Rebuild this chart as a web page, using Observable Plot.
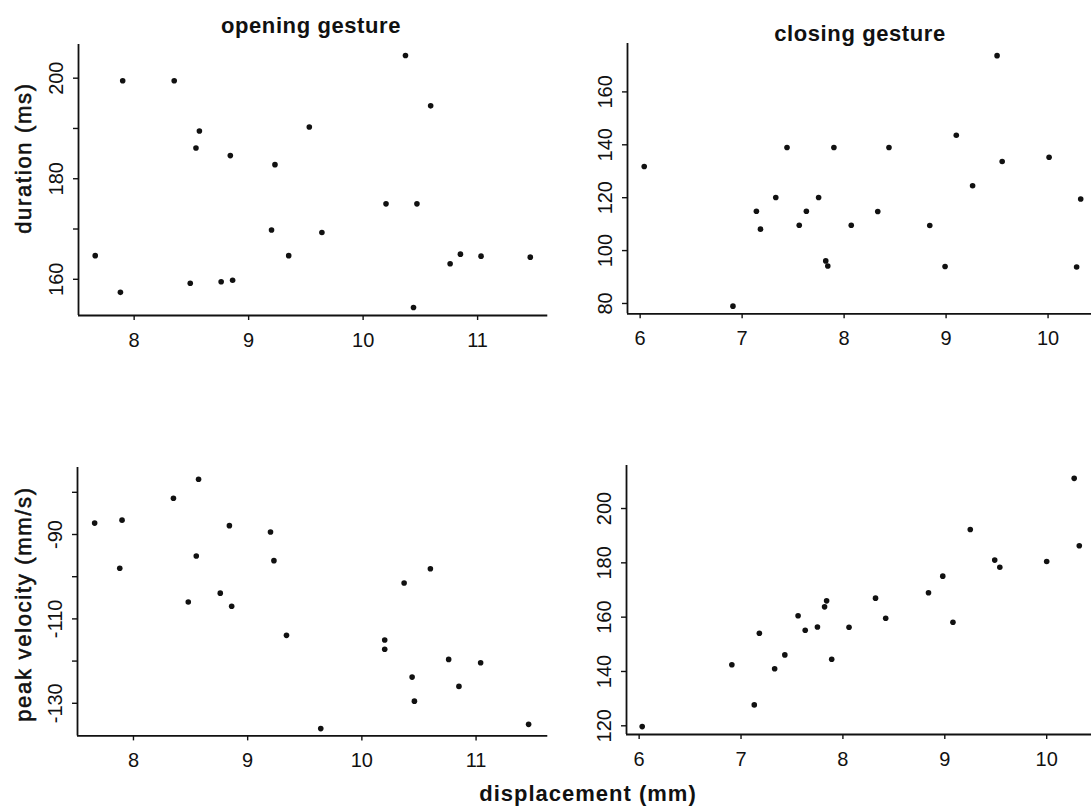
<!DOCTYPE html>
<html><head><meta charset="utf-8">
<script src="https://cdn.jsdelivr.net/npm/d3@7"></script>
<script src="https://cdn.jsdelivr.net/npm/@observablehq/plot@0.6"></script>
<style>
html,body{margin:0;padding:0;background:#fff;overflow:hidden}
#chart{position:relative;width:1091px;height:810px;overflow:hidden;background:#fff}
#chart > svg{position:absolute;overflow:visible}
</style></head><body><div id="chart"></div>
<script>
// ---- data ----
// opening gesture: displacement (mm) vs duration (ms)
const openDispDur = [7.66, 7.88, 7.90, 8.35, 8.57, 8.54, 8.84, 8.49, 8.76, 8.86, 9.23, 9.20, 9.35, 9.53, 9.64, 10.37, 10.59, 10.20, 10.47, 10.44, 10.76, 10.85, 11.03, 11.46];
const openDuration = [164.7, 157.4, 199.5, 199.5, 189.5, 186.1, 184.6, 159.2, 159.5, 159.8, 182.8, 169.8, 164.7, 190.3, 169.3, 204.5, 194.5, 175.0, 175.0, 154.4, 163.1, 165.0, 164.6, 164.4];
// opening gesture: displacement (mm) vs peak velocity (mm/s)
const openDispVel = [7.66, 7.90, 7.88, 8.35, 8.57, 8.55, 8.84, 8.48, 8.76, 8.86, 9.20, 9.23, 9.34, 9.64, 10.37, 10.60, 10.20, 10.20, 10.44, 10.46, 10.76, 10.85, 11.04, 11.46];
const openVelocity = [-87.3, -86.6, -98.0, -81.4, -76.9, -95.1, -87.9, -106.0, -103.9, -107.0, -89.4, -96.2, -113.9, -136.0, -101.5, -98.1, -115.0, -117.2, -123.8, -129.5, -119.6, -126.0, -120.4, -135.0];
// closing gesture: displacement (mm) vs duration (ms)
const closeDispDur = [6.04, 6.91, 7.14, 7.18, 7.33, 7.44, 7.56, 7.63, 7.75, 7.82, 7.84, 7.90, 8.07, 8.33, 8.44, 8.84, 8.99, 9.10, 9.26, 9.50, 9.55, 10.01, 10.32, 10.28];
const closeDuration = [131.8, 79.0, 114.9, 108.1, 120.1, 139.0, 109.6, 114.9, 120.1, 96.1, 94.2, 139.0, 109.6, 114.8, 139.0, 109.5, 94.0, 143.6, 124.5, 173.7, 133.7, 135.3, 119.5, 93.8];
// closing gesture: displacement (mm) vs peak velocity (mm/s)
const closeDispVel = [6.03, 6.91, 7.13, 7.18, 7.33, 7.43, 7.56, 7.63, 7.75, 7.82, 7.84, 7.89, 8.06, 8.32, 8.42, 8.84, 8.98, 9.08, 9.25, 9.49, 9.54, 10.00, 10.27, 10.32];
const closeVelocity = [119.7, 142.5, 127.7, 154.1, 141.0, 146.1, 160.5, 155.2, 156.4, 163.8, 166.0, 144.5, 156.3, 167.0, 159.6, 169.0, 175.1, 158.1, 192.3, 181.0, 178.4, 180.5, 211.1, 186.3];

// tick values and labelled ticks
const openXTicks = [8, 9, 10, 11];
const closeXTicks = [6, 7, 8, 9, 10];
const openDurTicks = [160, 170, 180, 190, 200];
const openDurLabels = [160, 180, 200];
const openVelTicks = [-130, -120, -110, -100, -90, -80];
const openVelLabels = [-130, -110, -90];
const closeDurTicks = [80, 100, 120, 140, 160];
const closeDurLabels = [80, 100, 120, 140, 160];
const closeVelTicks = [120, 140, 160, 180, 200];
const closeVelLabels = [120, 140, 160, 180, 200];

const titles = ["opening gesture", "closing gesture"];
const yTitles = ["duration (ms)", "peak velocity (mm/s)"];
const xTitle = "displacement (mm)";

// ---- layout ----
const tickFont = '"Liberation Sans Narrow", "Arial Narrow", "Liberation Sans", Arial, sans-serif';
const labelFont = '"Liberation Sans", Arial, sans-serif';
const ink = "#111";

const panels = [
  {xs: openDispDur, ys: openDuration, frame: {l: 77.7, r: 547, t: 44, b: 315}, xDomain: [7.514, 11.613], yDomain: [152.8, 206.7], xTicks: openXTicks, yTicks: openDurTicks, yLabels: openDurLabels},
  {xs: closeDispDur, ys: closeDuration, frame: {l: 626.7, r: 1100, t: 42.7, b: 313}, xDomain: [5.876, 10.517], yDomain: [76.1, 178.3], xTicks: closeXTicks, yTicks: closeDurTicks, yLabels: closeDurLabels},
  {xs: openDispVel, ys: openVelocity, frame: {l: 76.7, r: 547, t: 467.3, b: 735.7}, xDomain: [7.510, 11.628], yDomain: [-137.73, -74.12], xTicks: openXTicks, yTicks: openVelTicks, yLabels: openVelLabels},
  {xs: closeDispVel, ys: closeVelocity, frame: {l: 625.7, r: 1100, t: 465, b: 734}, xDomain: [5.876, 10.531], yDomain: [116.8, 215.84], xTicks: closeXTicks, yTicks: closeVelTicks, yLabels: closeVelLabels}
];

const chart = document.getElementById("chart");
const ml = 70, mr = 10, mt = 10, mb = 50;

for (const p of panels) {
  const data = p.xs.map((x, i) => ({x, y: p.ys[i]}));
  const w = p.frame.r - p.frame.l + ml + mr;
  const h = p.frame.b - p.frame.t + mt + mb;
  const svg = Plot.plot({
    width: w, height: h,
    marginLeft: ml, marginRight: mr, marginTop: mt, marginBottom: mb,
    style: {fontFamily: tickFont, fontSize: "20px", color: ink, background: "transparent", overflow: "visible"},
    x: {domain: p.xDomain},
    y: {domain: p.yDomain},
    marks: [
      Plot.axisX({ticks: p.xTicks, tickSize: 5, tickPadding: 12, tickFormat: d => String(d), label: null, fontSize: 20, stroke: ink, strokeWidth: 1.4}),
      Plot.axisY({ticks: p.yTicks, tickSize: 5, tickPadding: 11, tickRotate: -90, tickFormat: d => p.yLabels.includes(d) ? String(d) : "", label: null, fontSize: 20, stroke: ink, strokeWidth: 1.4}),
      Plot.ruleX([p.xDomain[0]], {stroke: ink, strokeWidth: 1.8}),
      Plot.ruleY([p.yDomain[0]], {stroke: ink, strokeWidth: 1.8}),
      Plot.dot(data, {x: "x", y: "y", r: 2.8, fill: ink, stroke: "none"})
    ]
  });
  svg.style.left = (p.frame.l - ml) + "px";
  svg.style.top = (p.frame.t - mt) + "px";
  chart.appendChild(svg);
}

// overlay with titles and axis titles
const ov = d3.select(chart).append("svg")
  .attr("width", 1091).attr("height", 810)
  .style("left", "0px").style("top", "0px").style("pointer-events", "none");

const titleSpec = [
  {text: titles[0], x: 311, y: 33},
  {text: titles[1], x: 860, y: 40.5}
];
ov.selectAll("text.title").data(titleSpec).join("text")
  .attr("class", "title")
  .attr("x", d => d.x).attr("y", d => d.y)
  .attr("text-anchor", "middle")
  .style("font-family", labelFont).style("font-weight", "bold").style("font-size", "22px")
  .style("letter-spacing", "0.6px").attr("fill", ink)
  .text(d => d.text);

ov.append("text")
  .attr("x", 588).attr("y", 801)
  .attr("text-anchor", "middle")
  .style("font-family", labelFont).style("font-weight", "bold").style("font-size", "22px")
  .style("letter-spacing", "1px").attr("fill", ink)
  .text(xTitle);

const ySpec = [
  {text: yTitles[0], x: 31, y: 158},
  {text: yTitles[1], x: 31, y: 604}
];
ov.selectAll("text.ytitle").data(ySpec).join("text")
  .attr("class", "ytitle")
  .attr("transform", d => `translate(${d.x},${d.y}) rotate(-90)`)
  .attr("text-anchor", "middle")
  .style("font-family", labelFont).style("font-size", "22px")
  .style("letter-spacing", "1.7px").attr("fill", ink)
  .attr("stroke", ink).attr("stroke-width", 0.6)
  .text(d => d.text);
</script>
</body></html>
